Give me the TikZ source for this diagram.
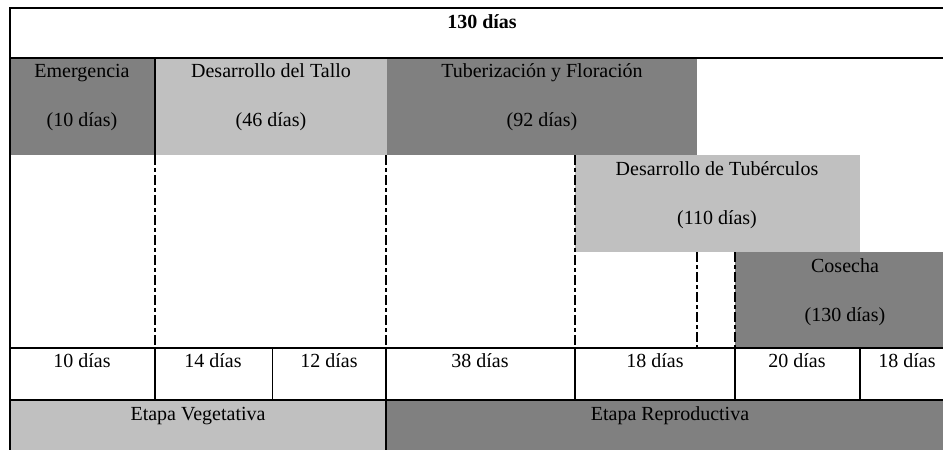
\documentclass[tikz,border=0pt]{standalone}
\usepackage{fontspec}
\setmainfont{Liberation Serif}
\definecolor{darkgr}{RGB}{128,128,128}
\definecolor{lightgr}{RGB}{192,192,192}

\begin{document}
\begin{tikzpicture}[x=0.5pt,y=-0.5pt,
  dark/.style={fill=darkgr},
  light/.style={fill=lightgr},
  solidrule/.style={line width=1.3pt},
  thinrule/.style={line width=0.5pt},
  dashline/.style={line width=1pt,dash pattern=on 5pt off 1.5pt on 2pt off 1.5pt},
  lbl/.style={anchor=base,inner sep=0pt}]
\useasboundingbox (0,0) rectangle (943,450);
\clip (0,0) rectangle (943,450);
% shaded blocks
\fill[dark] (10,58) rectangle (155,155);
\fill[light] (155,58) rectangle (387,155);
\fill[dark] (387,58) rectangle (697,155);
\fill[light] (575,155) rectangle (860,252);
\fill[dark] (735,252) rectangle (955,348);
\fill[light] (10,400) rectangle (386,450);
\fill[dark] (386,400) rectangle (955,450);
% dashed dividers
\foreach \x in {155,386,575}
  \draw[dashline] (\x,155) -- (\x,348);
\foreach \x in {697,735}
  \draw[dashline] (\x,252) -- (\x,348);
% table rules
\draw[solidrule] (10,450) -- (10,8) -- (955,8);
\foreach \y in {58,348,400}
  \draw[solidrule] (10,\y) -- (955,\y);
\draw[solidrule] (155,58) -- (155,155);
\foreach \x in {155,386,575,735,860}
  \draw[solidrule] (\x,348) -- (\x,400);
\draw[thinrule] (272,348) -- (272,400);
\draw[solidrule] (386,400) -- (386,450);
% labels
\node[lbl,font=\bfseries] (total) at (482,28) {130 días};
\node[lbl] (emer) at (82,77) {Emergencia};
\node[lbl] (emerd) at (82,126) {(10 días)};
\node[lbl] (tallo) at (271,77) {Desarrollo del Tallo};
\node[lbl] (tallod) at (271,126) {(46 días)};
\node[lbl] (tuber) at (542,77) {Tuberización y Floración};
\node[lbl] (tuberd) at (542,126) {(92 días)};
\node[lbl] (tubc) at (717,175) {Desarrollo de Tubérculos};
\node[lbl] (tubcd) at (717,224) {(110 días)};
\node[lbl] (cose) at (845,272) {Cosecha};
\node[lbl] (cosed) at (845,321) {(130 días)};
\foreach \cx/\n [count=\i] in {82/10,213/14,329/12,480/38,655/18,797/20,907/18}
  \node[lbl] (dias\i) at (\cx,367) {\n{} días};
\node[lbl] (veg) at (198,420) {Etapa Vegetativa};
\node[lbl] (rep) at (670,420) {Etapa Reproductiva};
\end{tikzpicture}
\end{document}
